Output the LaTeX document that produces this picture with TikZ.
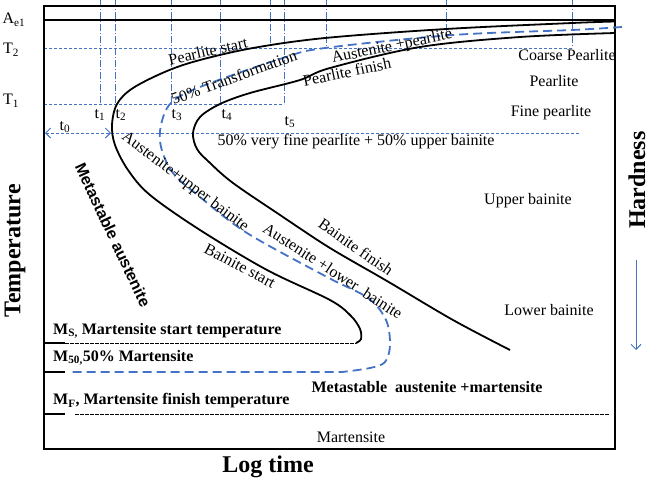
\documentclass[tikz,border=0pt]{standalone}
\usepackage{fontspec}
\setmainfont{Liberation Serif}
\setsansfont{Liberation Sans}
\usetikzlibrary{arrows.meta}

\definecolor{ttblue}{RGB}{68,114,196}
\tikzset{
  lbl/.style={font=\fontsize{16}{18}\selectfont,inner sep=1pt},
  boldlbl/.style={font=\fontsize{16}{18}\selectfont\bfseries,inner sep=1pt},
  axislbl/.style={font=\fontsize{24}{26}\selectfont\bfseries,inner sep=1pt},
  gridline/.style={ttblue,line width=.6pt,dash pattern=on 3pt off 2pt},
  timeline/.style={ttblue,line width=.6pt,dash pattern=on 7pt off 2pt on 1pt off 2pt},
  curve/.style={line width=1.8pt,line join=round},
  halfcurve/.style={ttblue,line width=1.8pt,dash pattern=on 9pt off 5pt},
  mline/.style={line width=1pt,dash pattern=on 3.5pt off 1.5pt},
  barb/.tip={Straight Barb[length=5pt,width=10pt,line width=.9pt]},
}

\begin{document}
\begin{tikzpicture}[x=1pt,y=-1pt]
  \useasboundingbox (0,0) rectangle (650,482);
  \coordinate (nw) at (44,6);
  \coordinate (se) at (615,449);
  \foreach \x/\ye in {100/104,115/104,171/104,220/104,270/46,284/104,326/48,446/33,572/48}{
    \draw[timeline] (\x,0) -- (\x,\ye);
  }
  \draw[gridline] (44,48) -- (572,48);
  \draw[gridline] (44,104) -- (284,104);
  \coordinate (t0l) at (45,133);
  \coordinate (t0r) at (111,133);
  \coordinate (fine) at (580,133);
  \draw[gridline,barb-barb] (t0l) -- (t0r);
  \draw[gridline] (t0r) -- (fine);

  \draw[line width=1.3pt] (nw) rectangle (se);
  \draw[line width=1.3pt] (44,20) -- (615,20);

  \draw[curve] plot[smooth,tension=.55] coordinates {(615,21.5) (572,23) (446,29) (325,38) (253,48) (200,60) (167,71) (133,88) (117,104) (112,125) (115,145) (128,170) (150,195) (200,230) (267,270) (330,300) (351,316) (360,329) (361,339) (356,343)};
  \draw[curve] plot[smooth,tension=.55] coordinates {(615,33) (520,37) (420,47) (330,68) (300,80) (250,93) (220,104) (200,117) (193,133) (197,149) (209,162) (233,183) (283,217) (330,248) (387,281) (453,320) (510,350)};
  \draw[halfcurve] plot[smooth,tension=.55] coordinates {(622,27) (572,30) (453,35) (325,48) (283,58) (200,87) (171,103) (161,125) (161,147) (173,173) (200,197) (247,233) (327,277) (368,298) (386,320) (390,345) (385,362) (370,368) (342,372)} -- (72,372);

  \draw[line width=1.3pt] (44,343) -- (65,343);
  \draw[mline] (65,343) -- (356,343);
  \draw[line width=1.3pt] (44,372) -- (65,372);
  \draw[line width=1.3pt] (44,414) -- (65,414);
  \draw[mline] (75,414) -- (610,414);

  \node[lbl] (ae1) at (14,20) {A\textsubscript{e1}};
  \node[lbl] (temp2) at (11,50) {T\textsubscript{2}};
  \node[lbl] (temp1) at (11,101) {T\textsubscript{1}};
  \foreach \n/\x/\y in {0/65/127,1/100/115,2/121/115,3/177/115,4/227/115,5/290/122}{
    \node[lbl] (t\n) at (\x,\y) {t\textsubscript{\n}};
  }

  \node[lbl,rotate=12.5] (pstart) at (208,51) {Pearlite  start};
  \node[lbl,rotate=20] (half) at (234,77) {50\% Transformation};
  \node[lbl,rotate=12] (pfinish) at (347,72) {Pearlite finish};
  \node[lbl,rotate=11.5] (auspear) at (392,47) {Austenite +pearlite};
  \node[lbl] (coarse) at (567,55) {Coarse Pearlite};
  \node[lbl] (pearl) at (554,81) {Pearlite};
  \node[lbl] (finep) at (551,113) {Fine pearlite};
  \node[lbl] (mixed) at (356,142) {50\% very fine pearlite + 50\% upper bainite};
  \node[lbl] (upper) at (528,201) {Upper bainite};
  \node[lbl] (lower) at (549,310) {Lower bainite};
  \node[lbl,rotate=-37] (ausup) at (185,182) {Austenite+upper bainite};
  \node[lbl,rotate=-33] (auslow) at (333,271) {Austenite +lower\ \ bainite};
  \node[lbl,rotate=-35] (bfinish) at (356,247) {Bainite finish};
  \node[lbl,rotate=-28] (bstart) at (240,266) {Bainite start};
  \node[font=\sffamily\bfseries\fontsize{16}{18}\selectfont,rotate=-65] (meta) at (113,235) {Metastable austenite};

  \node[boldlbl,anchor=west] (ms) at (52,331) {M\textsubscript{S,} Martensite start temperature};
  \node[boldlbl,anchor=west] (m50) at (52,358) {M\textsubscript{50,}50\% Martensite};
  \node[boldlbl,anchor=west] (mf) at (52,401) {M\textsubscript{F}, Martensite finish temperature};
  \node[boldlbl] (metamart) at (427,387) {Metastable\ \ austenite +martensite};
  \node[lbl] (mart) at (351,437) {Martensite};

  \node[axislbl] (logt) at (268,467) {Log time};
  \node[axislbl,rotate=90] (temp) at (15,251) {Temperature};
  \node[axislbl,rotate=90] (hard) at (637,180) {Hardness};
  \coordinate (harda) at (636,260);
  \coordinate (hardb) at (636,350);
  \draw[ttblue,line width=.6pt,-barb] (harda) -- (hardb);
\end{tikzpicture}
\end{document}
